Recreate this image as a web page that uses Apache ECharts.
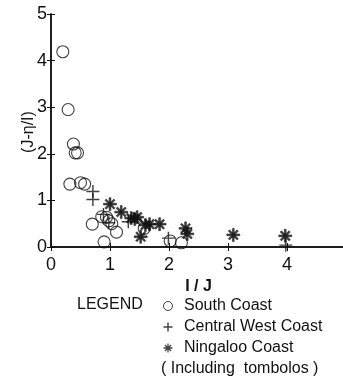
<!DOCTYPE html>
<html><head><meta charset="utf-8">
<script src="https://cdn.jsdelivr.net/npm/echarts@6/dist/echarts.min.js"></script>
<style>html,body{margin:0;padding:0;background:#fff}#c{width:343px;height:381px}</style>
</head><body><div id="c"></div>
<script>
const xTicks = [0, 1, 2, 3, 4, 5];
const yTicks = [0, 1, 2, 3, 4, 5];
const seriesNames = ['South Coast', 'Central West Coast', 'Ningaloo Coast'];
const southCoast = [
  [0.20, 4.19], [0.29, 2.95], [0.38, 2.21], [0.41, 2.02], [0.45, 2.02],
  [0.32, 1.35], [0.50, 1.38], [0.57, 1.35], [0.70, 0.49], [0.90, 0.11],
  [0.86, 0.65], [0.94, 0.64], [0.98, 0.56], [1.03, 0.50], [1.11, 0.32],
  [1.58, 0.40], [2.02, 0.13], [2.21, 0.09]
];
const centralWest = [
  [0.71, 1.19], [0.71, 1.02], [0.89, 0.70], [0.98, 0.52], [1.31, 0.54],
  [1.99, 0.19], [3.98, 0.04]
];
const ningaloo = [
  [1.00, 0.92], [1.19, 0.75], [1.36, 0.62], [1.42, 0.60], [1.46, 0.64],
  [1.52, 0.22], [1.60, 0.47], [1.67, 0.49], [1.84, 0.49], [2.28, 0.40],
  [2.31, 0.28], [3.09, 0.26], [3.97, 0.24]
];

const plusPath = 'path://M4.45,0H5.55V10H4.45ZM0,4.45H10V5.55H0Z';
const plusIcon = 'path://M4.2,0H5.8V10H4.2ZM0,4.2H10V5.8H0Z';
const starPath = 'path://M4.3,0H5.7V10H4.3ZM0,4.3H10V5.7H0ZM1.1,2.1L2.1,1.1L8.9,7.9L7.9,8.9ZM7.9,1.1L8.9,2.1L2.1,8.9L1.1,7.9Z';
const font = 'Liberation Sans, Arial, sans-serif';

const chart = echarts.init(document.getElementById('c'), null, {renderer: 'canvas'});
const axisLine = {show: true, lineStyle: {color: '#111', width: 1.5}};
const tick = {show: true, inside: true, length: 4, lineStyle: {color: '#111'}};
chart.setOption({
  animation: false,
  backgroundColor: '#fff',
  grid: {left: 51, top: 14, right: -3, bottom: 134, outerBoundsMode: 'none', containLabel: false},
  xAxis: [{
    type: 'value', min: 0, max: 5, interval: 1, position: 'bottom',
    name: 'I / J', nameLocation: 'middle', nameGap: 25,
    nameTextStyle: {fontFamily: font, fontSize: 16, color: '#111', fontWeight: 'bold'},
    axisLine: axisLine, axisTick: tick,
    axisLabel: {fontFamily: font, fontSize: 18, color: '#111', margin: 9,
      formatter: v => (xTicks.indexOf(v) >= 0 && v < 5 ? String(v) : '')},
    splitLine: {show: false}
  }, {
    type: 'value', min: 0, max: 5, interval: 1, position: 'top',
    axisLine: axisLine, axisTick: tick,
    axisLabel: {show: false}, splitLine: {show: false}
  }],
  yAxis: [{
    type: 'value', min: 0, max: 5, interval: 1, position: 'left',
    axisLine: axisLine, axisTick: tick,
    axisLabel: {fontFamily: font, fontSize: 18, color: '#111', margin: 4,
      formatter: v => (yTicks.indexOf(v) >= 0 ? String(v) : '')},
    splitLine: {show: false}
  }, {
    type: 'value', min: 0, max: 5, interval: 1, position: 'right',
    axisLine: axisLine, axisTick: tick,
    axisLabel: {show: false}, splitLine: {show: false}
  }],
  legend: {
    orient: 'vertical', left: 163, top: 298, padding: 0, itemGap: 5, itemWidth: 22, itemHeight: 9,
    textStyle: {fontFamily: font, fontSize: 16, lineHeight: 16, color: '#111'},
    data: [
      {name: seriesNames[0], icon: 'circle', itemStyle: {color: 'transparent', borderColor: '#111', borderWidth: 1}},
      {name: seriesNames[1], icon: plusIcon, itemStyle: {color: '#111', borderWidth: 0}},
      {name: seriesNames[2], icon: starPath, itemStyle: {color: '#111', borderWidth: 0}}
    ]
  },
  graphic: [
    {type: 'text', x: 29, y: 132, rotation: Math.PI / 2,
      style: {text: '(J-η/I)', fontFamily: font, fontSize: 16, fill: '#111', align: 'center', verticalAlign: 'middle'}},
    {type: 'text', x: 77, y: 305, style: {text: 'LEGEND', fontFamily: font, fontSize: 16, fill: '#111', verticalAlign: 'middle'}},
    {type: 'text', x: 161, y: 369, style: {text: '( Including  tombolos )', fontFamily: font, fontSize: 16, fill: '#111', verticalAlign: 'middle'}}
  ],
  series: [{
    name: seriesNames[0], type: 'scatter', data: southCoast, symbol: 'circle', symbolSize: 12,
    itemStyle: {color: 'transparent', borderColor: '#111', borderWidth: 1.1}
  }, {
    name: seriesNames[1], type: 'scatter', data: centralWest, symbol: plusPath, symbolSize: 13,
    itemStyle: {color: '#111'}
  }, {
    name: seriesNames[2], type: 'scatter', data: ningaloo, symbol: starPath, symbolSize: 13,
    itemStyle: {color: '#111', borderColor: '#111', borderWidth: 0.6}
  }]
});
</script></body></html>
